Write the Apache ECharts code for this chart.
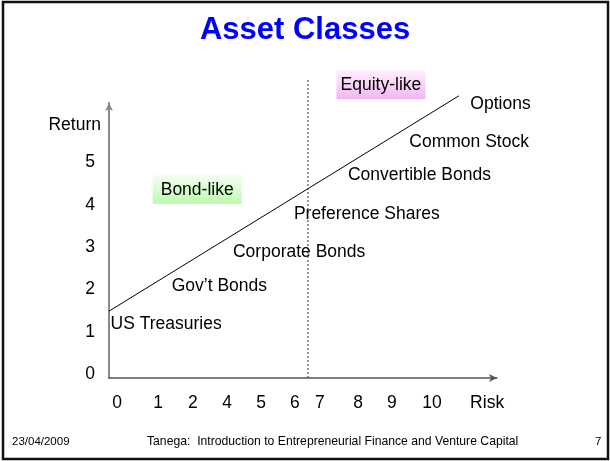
<!DOCTYPE html>
<html>
<head>
<meta charset="utf-8">
<script src="https://cdn.jsdelivr.net/npm/echarts@6/dist/echarts.min.js"></script>
<style>
  html, body { margin: 0; padding: 0; background: #fff; }
  #chart { width: 610px; height: 461px; }
</style>
</head>
<body>
<div id="chart"></div>
<script>
// tick labels (the slide skips "3" on the risk axis)
const xTickLabels = ['0', '1', '2', '4', '5', '6', '7', '8', '9', '10', 'Risk'];
const xTickValues = [0.23, 1.39, 2.38, 3.35, 4.31, 5.27, 5.98, 7.06, 8.02, 9.16, 10.72];
const yTickLabels = ['0', '1', '2', '3', '4', '5', 'Return'];
const yTickValues = [0, 1, 2, 3, 4, 5, 5.88];

// risk / return line and the bond / equity divider
const frontier = [[0, 1.58], [9.92, 6.67]];
const divider = [[5.64, 0], [5.64, 7.07]];

// asset classes along the line
const assetNames = ['US Treasuries', 'Gov\u2019t Bonds', 'Corporate Bonds', 'Preference Shares',
  'Convertible Bonds', 'Common Stock', 'Options'];
const assetRisk = [1.62, 3.13, 5.39, 7.31, 8.80, 10.21, 11.10];
const assetReturn = [1.30, 2.20, 3.00, 3.90, 4.82, 5.60, 6.50];

// group boxes
const groupNames = ['Bond-like', 'Equity-like'];
const groupRisk = [2.50, 7.71];
const groupReturn = [4.46, 6.94];

const FONT = '"Liberation Sans", Arial, sans-serif';
const LABEL_FONT = '17.5px ' + FONT;

let chart = echarts.init(document.getElementById('chart'));

const groupFills = [
  ['#f6fff2', '#bdfaad'],
  ['#fff2ff', '#f2b6f2']
];

function labelOf(list, values, v) {
  let i = values.findIndex(x => Math.abs(x - v) < 1e-6);
  return i < 0 ? '' : list[i];
}

let option = {
  animation: false,
  backgroundColor: '#fff',
  title: {
    text: 'Asset Classes',
    left: 'center',
    top: 10,
    textStyle: { fontFamily: FONT, fontSize: 31, fontWeight: 'bold', color: '#0000ff' }
  },
  grid: { left: 109, right: 113, top: 103, bottom: 83 },
  xAxis: {
    type: 'value',
    min: 0,
    max: 11,
    splitLine: { show: false },
    axisTick: { show: false },
    axisLine: {
      show: true,
      symbol: ['none', 'arrow'],
      symbolSize: [6, 8],
      lineStyle: { color: '#555', width: 1.5 }
    },
    axisLabel: {
      customValues: xTickValues,
      formatter: v => labelOf(xTickLabels, xTickValues, v),
      margin: 16,
      hideOverlap: false,
      color: '#000',
      fontFamily: FONT,
      fontSize: 17.5
    }
  },
  yAxis: {
    type: 'value',
    min: 0,
    max: 6.5,
    splitLine: { show: false },
    axisTick: { show: false },
    axisLine: {
      show: true,
      symbol: ['none', 'arrow'],
      symbolSize: [6, 8],
      lineStyle: { color: '#888', width: 2 }
    },
    axisLabel: {
      customValues: yTickValues,
      formatter: v => {
        let t = labelOf(yTickLabels, yTickValues, v);
        return t === 'Return' ? '{r|' + t + '}' : '{n|' + t + '}';
      },
      margin: 8,
      verticalAlign: 'bottom',
      lineHeight: 8,
      color: '#000',
      fontFamily: FONT,
      fontSize: 17.5,
      rich: {
        n: { fontFamily: FONT, fontSize: 17.5, color: '#000', padding: [0, 6, 0, 0], lineHeight: 8 },
        r: { fontFamily: FONT, fontSize: 17.5, color: '#000', lineHeight: 8 }
      }
    }
  },
  series: [
    {
      type: 'line',
      data: frontier,
      clip: false,
      symbol: 'none',
      lineStyle: { color: '#000', width: 1 }
    },
    {
      type: 'line',
      data: divider,
      clip: false,
      symbol: 'none',
      lineStyle: { color: '#333', width: 1, type: [2, 2] }
    },
    {
      // asset class names placed on the risk/return scale
      type: 'custom',
      clip: false,
      data: assetNames.map((n, i) => [assetRisk[i], assetReturn[i], i]),
      renderItem: (params, api) => {
        let p = api.coord([api.value(0), api.value(1)]);
        return {
          type: 'text',
          style: {
            text: assetNames[api.value(2)],
            x: p[0],
            y: p[1] + 1,
            align: 'center',
            verticalAlign: 'middle',
            fill: '#000',
            font: LABEL_FONT
          }
        };
      }
    },
    {
      type: 'custom',
      clip: false,
      data: groupNames.map((n, i) => [groupRisk[i], groupReturn[i], i]),
      renderItem: (params, api) => {
        let p = api.coord([api.value(0), api.value(1)]);
        let idx = api.value(2);
        let w = 89, h = 29;
        return {
          type: 'group',
          children: [
            {
              type: 'rect',
              shape: { x: p[0] - w / 2, y: p[1] - h / 2, width: w, height: h },
              style: {
                fill: new echarts.graphic.LinearGradient(0, 0, 0, 1, [
                  { offset: 0, color: groupFills[idx][0] },
                  { offset: 1, color: groupFills[idx][1] }
                ])
              }
            },
            {
              type: 'text',
              style: {
                text: groupNames[idx],
                x: p[0],
                y: p[1] + 1,
                align: 'center',
                verticalAlign: 'middle',
                fill: '#000',
                font: LABEL_FONT
              }
            }
          ]
        };
      }
    }
  ],
  graphic: [
    {
      type: 'rect',
      shape: { x: 3, y: 2, width: 605, height: 457 },
      style: { fill: 'none', stroke: '#111', lineWidth: 2.5 },
      silent: true
    },
    {
      type: 'text',
      left: 12, top: 436,
      style: { text: '23/04/2009', fill: '#000', font: '11.5px ' + FONT }
    },
    {
      type: 'text',
      left: 147, top: 436,
      style: { text: 'Tanega:  Introduction to Entrepreneurial Finance and Venture Capital', fill: '#000', font: '12.2px ' + FONT }
    },
    {
      type: 'text',
      left: 595, top: 436,
      style: { text: '7', fill: '#000', font: '11.5px ' + FONT }
    }
  ]
};

chart.setOption(option);
</script>
</body>
</html>
